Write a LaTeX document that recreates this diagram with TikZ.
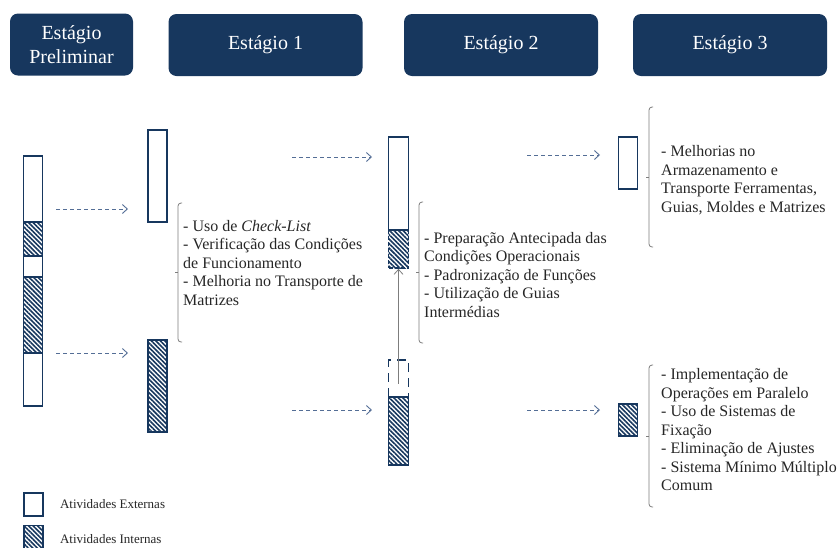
\documentclass[tikz,border=0pt]{standalone}
\usepackage{fontspec}
\setmainfont{Liberation Serif}
\usetikzlibrary{positioning,patterns.meta,arrows.meta}

\definecolor{navy}{RGB}{23,55,94}
\definecolor{flowblue}{RGB}{84,110,150}
\definecolor{brkgray}{RGB}{125,125,125}

\tikzstyle{stage} = [rectangle, rounded corners=8pt,
minimum width=194pt,
minimum height=62pt,
align=center,
fill=navy,
text=white,
font=\fontsize{20}{24}\selectfont]
\tikzstyle{bar} = [rectangle,
draw=navy,
line width=1.6pt,
minimum width=19pt,
inner sep=0pt]
\tikzstyle{ext} = [bar, fill=white]
\tikzstyle{int} = [bar,
pattern={Lines[angle=-45,distance=3.2pt,line width=1.6pt]},
pattern color=navy]
\tikzstyle{note} = [align=left,
inner sep=0pt,
text=black!85,
font=\fontsize{16}{18.5}\selectfont]
\tikzstyle{leg} = [inner sep=0pt,
text=black!85,
font=\fontsize{13}{15}\selectfont]
\tikzstyle{flow} = [->, flowblue, line width=0.9pt, dash pattern=on 4pt off 3pt]
\tikzstyle{move} = [->, brkgray, line width=0.8pt]
\tikzstyle{brk} = [brkgray, line width=0.8pt, rounded corners=3pt]

% left bracket: name, x, top, bottom
\newcommand{\brkt}[4]{%
\draw[brk] (#2+4,#3) -- (#2,#3) -- (#2,#4) -- (#2+4,#4);
\draw[brkgray, line width=0.8pt] (#2,{(#3+#4)/2}) -- (#2-3,{(#3+#4)/2});
\coordinate (#1) at (#2,{(#3+#4)/2});}

\begin{document}
\begin{tikzpicture}[x=1pt, y=-1pt, >={Straight Barb[length=5pt,width=9pt]}]
\useasboundingbox (0,0) rectangle (838,547);

% headers
\node (hp) [stage, minimum width=123pt] at (71.5,44.5) {Estágio\\Preliminar};
\node (h1) [stage] at (265.5,45) {Estágio 1};
\node (h2) [stage] at (501,45) {Estágio 2};
\node (h3) [stage] at (730,45) {Estágio 3};

% preliminar
\node (pA) [ext, minimum height=66pt] at (33,189) {};
\node (pB) [int, minimum height=34pt] at (33,239) {};
\node (pC) [ext, minimum height=21pt] at (33,266.5) {};
\node (pD) [int, minimum height=76pt] at (33,315) {};
\node (pE) [ext, minimum height=53pt] at (33,379.5) {};

% estagio 1
\node (s1a) [ext, minimum height=92pt] at (157.5,176) {};
\node (s1b) [int, minimum height=92pt] at (157.5,386) {};

% estagio 2
\node (s2a) [ext, minimum height=93pt, minimum width=20pt] at (398.5,183.5) {};
\node (s2b) [int, minimum height=38pt, minimum width=20pt, dash pattern=on 4pt off 2pt] at (398.5,249) {};
\node (gap) [bar, minimum height=37pt, minimum width=20pt, dash pattern=on 9pt off 6pt] at (398.5,378.5) {};
\node (s2c) [int, minimum height=68pt, minimum width=20pt] at (398.5,431) {};

% estagio 3
\node (s3a) [ext, minimum height=52pt] at (628,163) {};
\node (s3b) [int, minimum height=32pt] at (628,420) {};

% arrow ends
\coordinate (f1s) at (56,209);   \coordinate (f1e) at (128,209);
\coordinate (f2s) at (56,353);   \coordinate (f2e) at (128,353);
\coordinate (f3s) at (292,157);  \coordinate (f3e) at (372,157);
\coordinate (f4s) at (292,410);  \coordinate (f4e) at (372,410);
\coordinate (f5s) at (527,155);  \coordinate (f5e) at (600,155);
\coordinate (f6s) at (527,410);  \coordinate (f6e) at (600,410);

\draw [flow] (f1s) -- (f1e);
\draw [flow] (f2s) -- (f2e);
\draw [flow] (f3s) -- (f3e);
\draw [flow] (f4s) -- (f4e);
\draw [flow] (f5s) -- (f5e);
\draw [flow] (f6s) -- (f6e);
\draw [move] ([yshift=-5pt]gap.center) -- (s2b.south);

% brackets and notes
\brkt{b1}{178}{203}{342}
\brkt{b2}{419}{202}{343}
\brkt{b3}{649}{107}{247}
\brkt{b4}{649}{365}{507}

\node (t1) [note, anchor=west, right=5pt of b1, yshift=9.5pt] {- Uso de \textit{Check-List}\\- Verificação das Condições\\de Funcionamento\\- Melhoria no Transporte de\\Matrizes};
\node (t2) [note, anchor=west, right=5pt of b2, yshift=-2.5pt] {- Preparação Antecipada das\\Condições Operacionais\\- Padronização de Funções\\- Utilização de Guias\\Intermédias};
\node (t3) [note, anchor=west, right=12pt of b3, yshift=-3pt] {- Melhorias no\\Armazenamento e\\Transporte Ferramentas,\\Guias, Moldes e Matrizes};
\node (t4) [note, anchor=west, right=12pt of b4, yshift=6pt] {- Implementação de\\Operações em Paralelo\\- Uso de Sistemas de\\Fixação\\- Eliminação de Ajustes\\- Sistema Mínimo Múltiplo\\Comum};

% legenda
\node (lgE) [ext, minimum height=23pt] at (33.5,504.5) {};
\node (lgI) [int, minimum height=23pt] at (33.5,537) {};
\node (lxE) [leg, right=16pt of lgE] {Atividades Externas};
\node (lxI) [leg, right=16pt of lgI, yshift=-2pt] {Atividades Internas};
\end{tikzpicture}
\end{document}
